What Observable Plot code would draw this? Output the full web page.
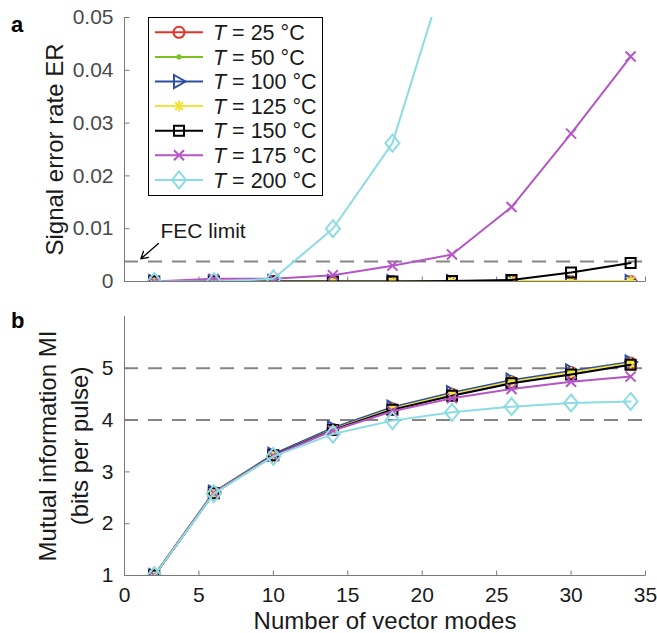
<!DOCTYPE html>
<html><head><meta charset="utf-8">
<script src="https://cdn.jsdelivr.net/npm/d3@7"></script>
<script src="https://cdn.jsdelivr.net/npm/@observablehq/plot@0.6"></script>
<style>
body{margin:0;background:#fff;}
#wrap{width:657px;height:633px;}
#wrap svg{display:block;}
</style></head><body><div id="wrap"></div>
<script>
// ---------- data ----------
const modes = [2, 6, 10, 14, 18, 22, 26, 30, 34];
const modes200 = [2, 6, 10, 14, 18, 22];
const tempLabels = ["25", "50", "100", "125", "150", "175", "200"];
const seriesColors = ["#e6332a", "#7ac21f", "#2c4fa3", "#f3e23c", "#000000", "#b655c6", "#8cdce3"];

const er25  = [0, 0, 0, 0, 0, 0, 0, 0, 0];
const er50  = [0, 0, 0, 0, 0, 0, 0, 0, 0];
const er100 = [0, 0, 0, 0, 0, 0, 0, 0, 0];
const er125 = [0, 0, 0, 0, 0, 0, 0.0001, 0.0001, 0.0001];
const er150 = [0, 0, 0, 0, 0, 0.0001, 0.0003, 0.0017, 0.0035];
const er175 = [0, 0.0005, 0.0005, 0.0012, 0.0030, 0.0051, 0.0141, 0.0280, 0.0426];
const er200 = [0, 0, 0.0005, 0.0100, 0.0262, 0.0625];

const mi25  = [1.00, 2.60, 3.32, 3.82, 4.22, 4.50, 4.74, 4.92, 5.10];
const mi50  = [1.00, 2.60, 3.32, 3.82, 4.22, 4.50, 4.74, 4.92, 5.10];
const mi100 = [1.00, 2.61, 3.34, 3.85, 4.25, 4.53, 4.77, 4.95, 5.12];
const mi125 = [1.00, 2.60, 3.32, 3.82, 4.22, 4.50, 4.74, 4.92, 5.10];
const mi150 = [1.00, 2.59, 3.32, 3.81, 4.20, 4.47, 4.71, 4.88, 5.07];
const mi175 = [1.00, 2.59, 3.31, 3.80, 4.17, 4.42, 4.60, 4.74, 4.84];
const mi200 = [1.00, 2.58, 3.30, 3.73, 3.99, 4.15, 4.26, 4.33, 4.36];

const xTicks = [0, 5, 10, 15, 20, 25, 30, 35];
const erTicks = [0, 0.01, 0.02, 0.03, 0.04, 0.05];
const miTicks = [1, 2, 3, 4, 5];
const fecLimit = [0.0038];
const miRefLines = [4, 5];
const fecLabel = [{x: 2.42, y: 0.0095, text: "FEC limit"}];
const fecArrow = [{x1: 2.28, y1: 0.0072, x2: 1.10, y2: 0.0043}];

// ---------- symbols ----------
const symCircle = {draw(c){c.moveTo(5.5,0);c.arc(0,0,5.5,0,2*Math.PI);}};
const symDot = {draw(c){c.moveTo(2.6,0);c.arc(0,0,2.6,0,2*Math.PI);}};
const symTri = {draw(c){c.moveTo(-5,-6.5);c.lineTo(6.5,0);c.lineTo(-5,6.5);c.closePath();}};
const symAster = {draw(c){const r=5.5,d=r*0.7071;c.moveTo(-r,0);c.lineTo(r,0);c.moveTo(0,-r);c.lineTo(0,r);c.moveTo(-d,-d);c.lineTo(d,d);c.moveTo(-d,d);c.lineTo(d,-d);}};
const symSquare = {draw(c){c.moveTo(-5,-5);c.lineTo(5,-5);c.lineTo(5,5);c.lineTo(-5,5);c.closePath();}};
const symTimes = {draw(c){c.moveTo(-5,-5);c.lineTo(5,5);c.moveTo(-5,5);c.lineTo(5,-5);}};
const symDiamond = {draw(c){c.moveTo(0,-8.5);c.lineTo(7,0);c.lineTo(0,8.5);c.lineTo(-7,0);c.closePath();}};
const symTickUp = {draw(c){c.moveTo(0,0);c.lineTo(0,-5);}};
const symTickRight = {draw(c){c.moveTo(0,0);c.lineTo(5,0);}};
const seriesSymbols = [symCircle, symDot, symTri, symAster, symSquare, symTimes, symDiamond];
const seriesFilled = [false, true, false, false, false, false, false];

const erSeries = [er25, er50, er100, er125, er150, er175, er200];
const miSeries = [mi25, mi50, mi100, mi125, mi150, mi175, mi200];
const erX = [modes, modes, modes, modes, modes, modes, modes200];

const FONT = "'Liberation Sans', Arial, Helvetica, sans-serif";
const AXIS = "#7a7a7a";

function seriesMarks(seriesList, xList) {
  const marks = [];
  seriesList.forEach((vals, i) => {
    const rows = vals.map((v, j) => ({x: xList[i][j], y: v}));
    marks.push(Plot.line(rows, {x: "x", y: "y", stroke: seriesColors[i], strokeWidth: 2, clip: true}));
    marks.push(Plot.dot(rows, {x: "x", y: "y", symbol: seriesSymbols[i], clip: true,
      stroke: seriesColors[i], strokeWidth: seriesFilled[i] ? 0 : 2,
      fill: seriesFilled[i] ? seriesColors[i] : "none"}));
  });
  return marks;
}

// ---------- panel a ----------
const plotA = Plot.plot({
  width: 657, height: 300,
  marginLeft: 124, marginRight: 12, marginTop: 17, marginBottom: 19,
  style: {fontFamily: FONT, background: "white", overflow: "visible"},
  x: {domain: [0, 35]},
  y: {domain: [0, 0.05]},
  marks: [
    Plot.ruleY(fecLimit, {stroke: "#858585", strokeWidth: 2, strokeDasharray: "14,10"}),
    Plot.ruleX([0], {stroke: AXIS, strokeWidth: 1}),
    Plot.ruleY([0], {stroke: AXIS, strokeWidth: 1}),
    Plot.dot(xTicks, {x: d => d, y: () => 0, symbol: symTickUp, stroke: AXIS, strokeWidth: 1}),
    Plot.dot(erTicks, {x: () => 0, y: d => d, symbol: symTickRight, stroke: AXIS, strokeWidth: 1}),
    Plot.axisY(erTicks, {tickSize: 0, tickPadding: 11, fontSize: 21, color: "#4a4a4a", label: null,
      tickFormat: d => d === 0 ? "0" : d.toFixed(2)}),
    Plot.axisX([], {label: null, tickSize: 0}),
    ...seriesMarks(erSeries, erX),
    Plot.text(fecLabel, {x: "x", y: "y", text: "text", textAnchor: "start", fontSize: 21, fill: "#1a1a1a"}),
    Plot.arrow(fecArrow, {x1: "x1", y1: "y1", x2: "x2", y2: "y2", stroke: "#000", strokeWidth: 1.3, headLength: 9}),
    Plot.text(["Signal error rate ER"], {frameAnchor: "left", dx: -69, rotate: -90, textAnchor: "middle",
      lineAnchor: "middle", fontSize: 24, fill: "#1a1a1a"})
  ]
});

// ---------- panel b ----------
const plotB = Plot.plot({
  width: 657, height: 333,
  marginLeft: 124, marginRight: 12, marginTop: 16, marginBottom: 58,
  style: {fontFamily: FONT, background: "white", overflow: "visible"},
  x: {domain: [0, 35]},
  y: {domain: [1, 6]},
  marks: [
    Plot.ruleY(miRefLines, {stroke: "#858585", strokeWidth: 2, strokeDasharray: "14,10"}),
    Plot.ruleX([0], {stroke: AXIS, strokeWidth: 1}),
    Plot.ruleY([1], {stroke: AXIS, strokeWidth: 1}),
    Plot.dot(xTicks, {x: d => d, y: () => 1, symbol: symTickUp, stroke: AXIS, strokeWidth: 1}),
    Plot.dot(miTicks, {x: () => 0, y: d => d, symbol: symTickRight, stroke: AXIS, strokeWidth: 1}),
    Plot.axisY(miTicks, {tickSize: 0, tickPadding: 11, fontSize: 21, color: "#1a1a1a", label: null,
      tickFormat: d => String(d)}),
    Plot.axisX(xTicks, {tickSize: 0, tickPadding: 12, fontSize: 21, color: "#1a1a1a", label: null,
      tickFormat: d => String(d)}),
    ...seriesMarks(miSeries, erX.map(() => modes)),
    Plot.text(["Mutual information MI\n(bits per pulse)"], {frameAnchor: "left", dx: -63, rotate: -90,
      textAnchor: "middle", lineAnchor: "middle", lineHeight: 1.33, fontSize: 24, fill: "#1a1a1a"}),
    Plot.text(["Number of vector modes"], {frameAnchor: "bottom", dy: 46, textAnchor: "middle",
      lineAnchor: "middle", fontSize: 24, fill: "#1a1a1a"})
  ]
});

const wrap = document.getElementById("wrap");
wrap.appendChild(plotA);
wrap.appendChild(plotB);

// panel letters
d3.select(plotA).append("text").attr("x", 11).attr("y", 32).attr("font-weight", "bold")
  .attr("text-anchor", "start").attr("font-size", 22).attr("font-family", FONT).attr("fill", "#000").text("a");
d3.select(plotB).append("text").attr("x", 11).attr("y", 28).attr("font-weight", "bold")
  .attr("text-anchor", "start").attr("font-size", 22).attr("font-family", FONT).attr("fill", "#000").text("b");

// legend
const lg = d3.select(plotA).append("g").attr("font-family", FONT).attr("text-anchor", "start");
lg.append("rect").attr("x", 148.5).attr("y", 17.5).attr("width", 174).attr("height", 178)
  .attr("fill", "white").attr("stroke", "#000").attr("stroke-width", 1);
tempLabels.forEach((t, i) => {
  const y = 32.3 + i * 24.6;
  lg.append("line").attr("x1", 155).attr("x2", 203).attr("y1", y).attr("y2", y)
    .attr("stroke", seriesColors[i]).attr("stroke-width", 2);
  lg.append("path").attr("transform", `translate(179,${y})`)
    .attr("d", d3.symbol(seriesSymbols[i])())
    .attr("fill", seriesFilled[i] ? seriesColors[i] : "none")
    .attr("stroke", seriesFilled[i] ? "none" : seriesColors[i]).attr("stroke-width", 2);
  const tx = lg.append("text").attr("x", 213).attr("y", y).attr("dy", "0.36em")
    .attr("text-anchor", "start").attr("font-size", 21.5).attr("fill", "#1a1a1a");
  tx.append("tspan").attr("font-style", "italic").text("T");
  tx.append("tspan").text(` = ${t} °C`);
});
</script>
</body></html>
